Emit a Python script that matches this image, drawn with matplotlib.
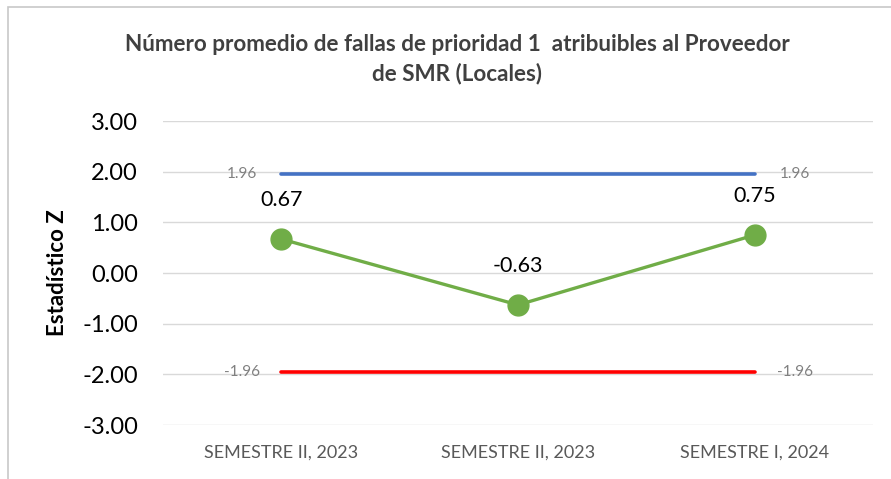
import matplotlib
matplotlib.use("Agg")
import matplotlib.pyplot as plt
from matplotlib.patches import Rectangle

categories = ["SEMESTRE II, 2023", "SEMESTRE II, 2023", "SEMESTRE I, 2024"]
z_values = [0.67, -0.63, 0.75]
upper_limit = [1.96, 1.96, 1.96]
lower_limit = [-1.96, -1.96, -1.96]
yticks = [3.0, 2.0, 1.0, 0.0, -1.0, -2.0, -3.0]
title = "Número promedio de fallas de prioridad 1  atribuibles al Proveedor\nde SMR (Locales)"
ylabel = "Estadístico Z"

plt.rcParams['font.family'] = ['Lato', 'DejaVu Sans']

fig = plt.figure(figsize=(8.91, 4.79), dpi=100)
fig.patches.append(Rectangle((8/891, -0.01), 1.0, (479-7)/479 + 0.01, transform=fig.transFigure,
                             fill=False, edgecolor="#c8c8c8", linewidth=1.2))
ax = fig.add_axes([163/891, 1-425/479, (873-163)/891, (425-121)/479])

x = list(range(len(categories)))
ax.plot(x, upper_limit, color="#4472C4", linewidth=2.6, solid_capstyle="round", zorder=3)
ax.plot(x, lower_limit, color="#FF0000", linewidth=2.6, solid_capstyle="round", zorder=3)
ax.plot(x, z_values, color="#70AD47", linewidth=2.4, marker="o", markersize=15, zorder=4)

for xi, v in zip(x, z_values):
    ax.annotate(f"{v:.2f}", (xi, v), xytext=(0, 21), textcoords="offset points",
                ha="center", va="bottom", fontsize=15.5, color="black")

for lim in (upper_limit, lower_limit):
    ax.text(x[0] - 0.165, lim[0], f"{lim[0]:.2f}", ha="center", va="center",
            fontsize=11, color="#808080", zorder=2)
    ax.text(x[-1] + 0.17, lim[-1], f"{lim[-1]:.2f}", ha="center", va="center",
            fontsize=11, color="#808080", zorder=2)

ax.set_xlim(-0.5, 2.5)
ax.set_ylim(-3.0, 3.0)
ax.set_yticks(yticks)
ax.set_yticklabels([f"{t:.2f}" for t in yticks], fontsize=17)
ax.set_xticks(x)
ax.set_xticklabels(categories, fontsize=13, color="#595959")
ax.tick_params(axis="both", length=0)
ax.tick_params(axis="y", pad=18)
ax.tick_params(axis="x", pad=14)
ax.grid(axis="y", color="#d9d9d9", linewidth=1)
ax.set_axisbelow(True)
for s in ax.spines.values():
    s.set_visible(False)

ax.set_ylabel(ylabel, fontsize=16, fontweight="bold", labelpad=10)
fig.text(457/891, 1-59/479, title, ha="center", va="center", fontsize=16.2,
         fontweight="bold", color="#404040", linespacing=1.4)

fig.savefig("out.png", dpi=100)
